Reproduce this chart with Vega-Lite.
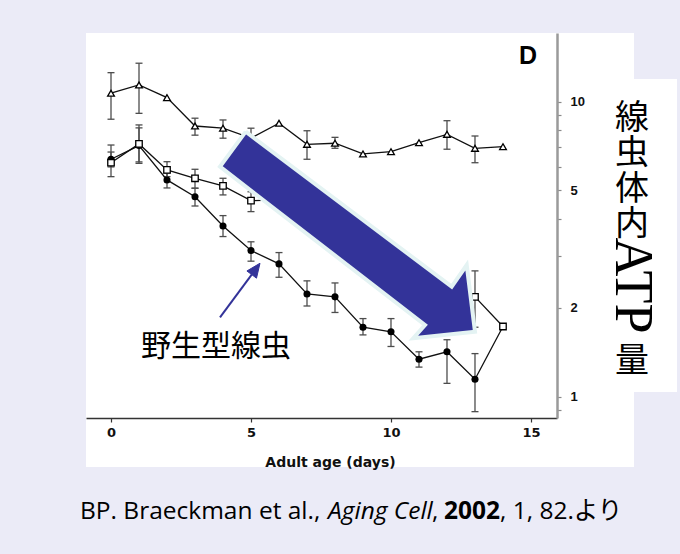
{
  "$schema": "https://vega.github.io/schema/vega-lite/v6.json",
  "width": 471,
  "height": 385,
  "autosize": {"type": "none"},
  "padding": {"left": 86, "top": 33, "right": 123, "bottom": 136},
  "background": "#ebebf7",
  "view": {"stroke": null},
  "config": {"font": "Liberation Sans"},
  "datasets": {
    "atp": [
      {"strain": "upper", "day": 0, "atp": 10.68, "lo": 8.72, "hi": 12.54},
      {"strain": "upper", "day": 1, "atp": 11.39, "lo": 9.13, "hi": 13.5},
      {"strain": "upper", "day": 2, "atp": 10.32, "lo": null, "hi": null},
      {"strain": "upper", "day": 3, "atp": 8.27, "lo": 7.7, "hi": 8.79},
      {"strain": "upper", "day": 4, "atp": 8.13, "lo": 7.52, "hi": 8.67},
      {"strain": "upper", "day": 5, "atp": 7.53, "lo": 7.0, "hi": 8.13},
      {"strain": "upper", "day": 6, "atp": 8.45, "lo": null, "hi": null},
      {"strain": "upper", "day": 7, "atp": 7.17, "lo": 6.38, "hi": 7.97},
      {"strain": "upper", "day": 8, "atp": 7.23, "lo": 6.95, "hi": 7.57},
      {"strain": "upper", "day": 9, "atp": 6.65, "lo": null, "hi": null},
      {"strain": "upper", "day": 10, "atp": 6.77, "lo": null, "hi": null},
      {"strain": "upper", "day": 11, "atp": 7.26, "lo": null, "hi": null},
      {"strain": "upper", "day": 12, "atp": 7.75, "lo": 6.9, "hi": 8.62},
      {"strain": "upper", "day": 13, "atp": 6.95, "lo": 6.21, "hi": 7.65},
      {"strain": "upper", "day": 14, "atp": 7.04, "lo": null, "hi": null},
      {"strain": "middle", "day": 0, "atp": 6.21, "lo": 5.57, "hi": 7.13},
      {"strain": "middle", "day": 1, "atp": 7.19, "lo": 6.18, "hi": 8.34},
      {"strain": "middle", "day": 2, "atp": 5.87, "lo": 5.57, "hi": 6.26},
      {"strain": "middle", "day": 3, "atp": 5.5, "lo": 5.09, "hi": 5.9},
      {"strain": "middle", "day": 4, "atp": 5.18, "lo": 4.83, "hi": 5.5},
      {"strain": "middle", "day": 5, "atp": 4.62, "lo": 4.24, "hi": 4.95},
      {"strain": "middle", "day": 6, "atp": 4.65, "lo": 4.35, "hi": 4.95},
      {"strain": "middle", "day": 7, "atp": 4.13, "lo": 3.85, "hi": 4.42},
      {"strain": "middle", "day": 8, "atp": 3.56, "lo": 3.32, "hi": 3.8},
      {"strain": "middle", "day": 9, "atp": 3.05, "lo": 2.85, "hi": 3.26},
      {"strain": "middle", "day": 10, "atp": 2.65, "lo": 2.48, "hi": 2.83},
      {"strain": "middle", "day": 11, "atp": 2.3, "lo": 2.15, "hi": 2.46},
      {"strain": "middle", "day": 12, "atp": 2.13, "lo": 2.0, "hi": 2.27},
      {"strain": "middle", "day": 13, "atp": 2.18, "lo": 1.72, "hi": 2.67},
      {"strain": "middle", "day": 14, "atp": 1.73, "lo": null, "hi": null},
      {"strain": "wild type", "day": 0, "atp": 6.38, "lo": 6.01, "hi": 6.75},
      {"strain": "wild type", "day": 1, "atp": 7.1, "lo": 6.25, "hi": 8.15},
      {"strain": "wild type", "day": 2, "atp": 5.43, "lo": 5.1, "hi": 5.73},
      {"strain": "wild type", "day": 3, "atp": 4.76, "lo": 4.43, "hi": 5.09},
      {"strain": "wild type", "day": 4, "atp": 3.79, "lo": 3.49, "hi": 4.11},
      {"strain": "wild type", "day": 5, "atp": 3.13, "lo": 2.88, "hi": 3.35},
      {"strain": "wild type", "day": 6, "atp": 2.82, "lo": 2.54, "hi": 3.08},
      {"strain": "wild type", "day": 7, "atp": 2.23, "lo": 2.03, "hi": 2.47},
      {"strain": "wild type", "day": 8, "atp": 2.18, "lo": 1.93, "hi": 2.43},
      {"strain": "wild type", "day": 9, "atp": 1.72, "lo": 1.62, "hi": 1.84},
      {"strain": "wild type", "day": 10, "atp": 1.66, "lo": 1.48, "hi": 1.84},
      {"strain": "wild type", "day": 11, "atp": 1.34, "lo": 1.26, "hi": 1.42},
      {"strain": "wild type", "day": 12, "atp": 1.42, "lo": 1.11, "hi": 1.56},
      {"strain": "wild type", "day": 13, "atp": 1.146, "lo": 0.89, "hi": 1.4},
      {"strain": "wild type", "day": 14, "atp": 1.73, "lo": null, "hi": null}
    ],
    "arrows": [
      {"part": "big", "i": 0, "day": 4.811, "atp": 7.912},
      {"part": "big", "i": 1, "day": 12.168, "atp": 2.36},
      {"part": "big", "i": 2, "day": 12.704, "atp": 2.795},
      {"part": "big", "i": 3, "day": 13.0, "atp": 1.661},
      {"part": "big", "i": 4, "day": 10.796, "atp": 1.578},
      {"part": "big", "i": 5, "day": 11.214, "atp": 1.75},
      {"part": "big", "i": 6, "day": 3.893, "atp": 6.021},
      {"part": "big", "i": 7, "day": 4.811, "atp": 7.912},
      {"part": "head", "i": 0, "day": 5.321, "atp": 2.834},
      {"part": "head", "i": 1, "day": 5.196, "atp": 2.522},
      {"part": "head", "i": 2, "day": 4.854, "atp": 2.668},
      {"part": "head", "i": 3, "day": 5.321, "atp": 2.834}
    ]
  },
  "layer": [
    {
      "data": {"values": [{}]},
      "mark": {"type": "rect", "color": "#ffffff"},
      "encoding": {
        "x": {"datum": -0.893, "type": "quantitative", "scale": {"domain": [-0.893, 15.929], "nice": false, "zero": false}},
        "x2": {"datum": 18.679},
        "y": {"datum": 17.09, "type": "quantitative", "scale": {"type": "log", "domain": [0.847, 17.09], "nice": false}},
        "y2": {"datum": 0.5777}
      }
    },
    {
      "data": {"values": [{}]},
      "mark": {"type": "rect", "color": "#ffffff"},
      "encoding": {
        "x": {"datum": 18.0, "type": "quantitative", "scale": {"domain": [-0.893, 15.929], "nice": false, "zero": false}},
        "x2": {"datum": 20.214},
        "y": {"datum": 11.94, "type": "quantitative", "scale": {"type": "log", "domain": [0.847, 17.09], "nice": false}},
        "y2": {"datum": 1.037}
      }
    },
    {
      "data": {"name": "atp"},
      "transform": [{"filter": "datum.lo != null"}],
      "mark": {"type": "rule", "color": "#4d4d4d", "strokeWidth": 1.3},
      "encoding": {
        "x": {"field": "day", "type": "quantitative", "scale": {"domain": [-0.893, 15.929], "nice": false, "zero": false}},
        "y": {"field": "lo", "type": "quantitative", "scale": {"type": "log", "domain": [0.847, 17.09], "nice": false}},
        "y2": {"field": "hi"}
      }
    },
    {
      "data": {"name": "atp"},
      "transform": [
        {"filter": "datum.lo != null"},
        {"fold": ["lo", "hi"], "as": ["end", "bound"]}
      ],
      "mark": {"type": "point", "shape": "stroke", "color": "#4d4d4d", "strokeWidth": 1.3, "size": 49, "opacity": 1},
      "encoding": {
        "x": {"field": "day", "type": "quantitative", "scale": {"domain": [-0.893, 15.929], "nice": false, "zero": false}},
        "y": {"field": "bound", "type": "quantitative", "scale": {"type": "log", "domain": [0.847, 17.09], "nice": false}}
      }
    },
    {
      "data": {"name": "atp"},
      "mark": {"type": "line", "color": "#111111", "strokeWidth": 1.3},
      "encoding": {
        "x": {
          "field": "day", "type": "quantitative",
          "scale": {"domain": [-0.893, 15.929], "nice": false, "zero": false},
          "axis": {
            "orient": "bottom", "values": [0, 5, 10, 15], "format": "d", "title": "Adult age (days)", "grid": false, "zindex": 1,
            "domainColor": "#333333", "domainWidth": 1.5, "tickColor": "#333333", "tickSize": 4, "tickWidth": 1.2,
            "labelFont": "DejaVu Sans", "labelFontWeight": "bold", "labelFontSize": 13, "labelColor": "#111111", "labelPadding": 4, "labelFlush": false,
            "titleFont": "DejaVu Sans", "titleFontWeight": "bold", "titleFontSize": 14, "titleColor": "#111111",
            "titleX": 244, "titleY": 44, "titleBaseline": "middle", "titleAlign": "center"
          }
        },
        "y": {
          "field": "atp", "type": "quantitative",
          "scale": {"type": "log", "domain": [0.847, 17.09], "nice": false},
          "axis": {
            "orient": "right", "values": [0.9, 1, 2, 3, 4, 5, 6, 7, 8, 9, 10], "title": null, "grid": false, "zindex": 1,
            "labelExpr": "datum.value == 1 || datum.value == 2 || datum.value == 5 || datum.value == 10 ? format(datum.value, 'd') : ''",
            "domainColor": "#9a9a9a", "domainWidth": 2.5, "tickColor": "#8a8a8a", "tickWidth": 1.2, "tickSize": 4,
            "labelFont": "Liberation Sans", "labelFontWeight": "bold", "labelFontSize": 13, "labelColor": "#111111",
            "labelPadding": 9, "labelBaseline": "middle", "labelOverlap": false, "labelFlush": false
          }
        },
        "detail": {"field": "strain"}
      }
    },
    {
      "data": {"name": "atp"},
      "transform": [{"filter": "datum.strain == 'wild type' && datum.day < 14"}],
      "mark": {"type": "point", "shape": "circle", "filled": true, "color": "#000000", "size": 50, "opacity": 1},
      "encoding": {
        "x": {"field": "day", "type": "quantitative", "scale": {"domain": [-0.893, 15.929], "nice": false, "zero": false}},
        "y": {"field": "atp", "type": "quantitative", "scale": {"type": "log", "domain": [0.847, 17.09], "nice": false}}
      }
    },
    {
      "data": {"name": "atp"},
      "transform": [{"filter": "datum.strain == 'middle'"}],
      "mark": {"type": "point", "shape": "square", "filled": true, "fill": "#ffffff", "stroke": "#000000", "strokeWidth": 1.3, "size": 42, "opacity": 1},
      "encoding": {
        "x": {"field": "day", "type": "quantitative", "scale": {"domain": [-0.893, 15.929], "nice": false, "zero": false}},
        "y": {"field": "atp", "type": "quantitative", "scale": {"type": "log", "domain": [0.847, 17.09], "nice": false}}
      }
    },
    {
      "data": {"name": "atp"},
      "transform": [{"filter": "datum.strain == 'upper'"}],
      "mark": {"type": "point", "shape": "triangle-up", "filled": true, "fill": "#ffffff", "stroke": "#000000", "strokeWidth": 1.3, "size": 46, "opacity": 1},
      "encoding": {
        "x": {"field": "day", "type": "quantitative", "scale": {"domain": [-0.893, 15.929], "nice": false, "zero": false}},
        "y": {"field": "atp", "type": "quantitative", "scale": {"type": "log", "domain": [0.847, 17.09], "nice": false}}
      }
    },
    {
      "data": {"name": "arrows"},
      "transform": [{"filter": "datum.part == 'big'"}],
      "mark": {"type": "line", "fill": "#333399", "stroke": "#e4f3f3", "strokeWidth": 4, "strokeJoin": "miter", "strokeMiterLimit": 10},
      "encoding": {
        "x": {"field": "day", "type": "quantitative", "scale": {"domain": [-0.893, 15.929], "nice": false, "zero": false}},
        "y": {"field": "atp", "type": "quantitative", "scale": {"type": "log", "domain": [0.847, 17.09], "nice": false}},
        "order": {"field": "i", "type": "quantitative"}
      }
    },
    {
      "data": {"values": [{}]},
      "mark": {"type": "rule", "color": "#333399", "strokeWidth": 2},
      "encoding": {
        "x": {"datum": 3.893, "type": "quantitative", "scale": {"domain": [-0.893, 15.929], "nice": false, "zero": false}},
        "x2": {"datum": 5.025},
        "y": {"datum": 1.858, "type": "quantitative", "scale": {"type": "log", "domain": [0.847, 17.09], "nice": false}},
        "y2": {"datum": 2.594}
      }
    },
    {
      "data": {"name": "arrows"},
      "transform": [{"filter": "datum.part == 'head'"}],
      "mark": {"type": "line", "fill": "#333399", "stroke": "#333399", "strokeWidth": 1},
      "encoding": {
        "x": {"field": "day", "type": "quantitative", "scale": {"domain": [-0.893, 15.929], "nice": false, "zero": false}},
        "y": {"field": "atp", "type": "quantitative", "scale": {"type": "log", "domain": [0.847, 17.09], "nice": false}},
        "order": {"field": "i", "type": "quantitative"}
      }
    },
    {
      "data": {"values": [{}]},
      "mark": {"type": "text", "text": "野生型線虫", "font": "Noto Sans CJK JP", "fontSize": 30, "color": "#000000", "align": "center", "baseline": "middle"},
      "encoding": {
        "x": {"datum": 3.75, "type": "quantitative", "scale": {"domain": [-0.893, 15.929], "nice": false, "zero": false}},
        "y": {"datum": 1.474, "type": "quantitative", "scale": {"type": "log", "domain": [0.847, 17.09], "nice": false}}
      }
    },
    {
      "data": {"values": [{}]},
      "mark": {"type": "text", "text": "D", "font": "Liberation Sans", "fontWeight": "bold", "fontSize": 25, "color": "#000000", "align": "center", "baseline": "middle"},
      "encoding": {
        "x": {"datum": 14.893, "type": "quantitative", "scale": {"domain": [-0.893, 15.929], "nice": false, "zero": false}},
        "y": {"datum": 14.29, "type": "quantitative", "scale": {"type": "log", "domain": [0.847, 17.09], "nice": false}}
      }
    },
    {
      "data": {"values": [{}]},
      "mark": {"type": "text", "text": ["線", "虫", "体", "内"], "lineHeight": 35.3, "font": "Noto Sans CJK JP", "fontSize": 34, "color": "#000000", "align": "center", "baseline": "middle"},
      "encoding": {
        "x": {"datum": 18.607, "type": "quantitative", "scale": {"domain": [-0.893, 15.929], "nice": false, "zero": false}},
        "y": {"datum": 8.74, "type": "quantitative", "scale": {"type": "log", "domain": [0.847, 17.09], "nice": false}}
      }
    },
    {
      "data": {"values": [{}]},
      "mark": {"type": "text", "text": "ATP", "angle": 90, "font": "Liberation Serif", "fontSize": 54, "color": "#000000", "align": "center", "baseline": "middle"},
      "encoding": {
        "x": {"datum": 18.607, "type": "quantitative", "scale": {"domain": [-0.893, 15.929], "nice": false, "zero": false}},
        "y": {"datum": 2.38, "type": "quantitative", "scale": {"type": "log", "domain": [0.847, 17.09], "nice": false}}
      }
    },
    {
      "data": {"values": [{}]},
      "mark": {"type": "text", "text": "量", "font": "Noto Sans CJK JP", "fontSize": 34, "color": "#000000", "align": "center", "baseline": "middle"},
      "encoding": {
        "x": {"datum": 18.607, "type": "quantitative", "scale": {"domain": [-0.893, 15.929], "nice": false, "zero": false}},
        "y": {"datum": 1.31, "type": "quantitative", "scale": {"type": "log", "domain": [0.847, 17.09], "nice": false}}
      }
    },
    {
      "data": {"values": [{}]},
      "mark": {"type": "text", "text": "BP. Braeckman et al.,", "font": "Open Sans, Noto Sans CJK JP", "fontSize": 24.5, "color": "#000000", "align": "left", "baseline": "middle"},
      "encoding": {
        "x": {"datum": -1.107, "type": "quantitative", "scale": {"domain": [-0.893, 15.929], "nice": false, "zero": false}},
        "y": {"datum": 0.4066, "type": "quantitative", "scale": {"type": "log", "domain": [0.847, 17.09], "nice": false}}
      }
    },
    {
      "data": {"values": [{}]},
      "mark": {"type": "text", "text": "Aging Cell", "font": "Open Sans, Noto Sans CJK JP", "fontStyle": "italic", "fontSize": 24.5, "color": "#000000", "align": "left", "baseline": "middle"},
      "encoding": {
        "x": {"datum": 7.75, "type": "quantitative", "scale": {"domain": [-0.893, 15.929], "nice": false, "zero": false}},
        "y": {"datum": 0.4066, "type": "quantitative", "scale": {"type": "log", "domain": [0.847, 17.09], "nice": false}}
      }
    },
    {
      "data": {"values": [{}]},
      "mark": {"type": "text", "text": ",", "font": "Open Sans, Noto Sans CJK JP", "fontSize": 24.5, "color": "#000000", "align": "left", "baseline": "middle"},
      "encoding": {
        "x": {"datum": 11.464, "type": "quantitative", "scale": {"domain": [-0.893, 15.929], "nice": false, "zero": false}},
        "y": {"datum": 0.4066, "type": "quantitative", "scale": {"type": "log", "domain": [0.847, 17.09], "nice": false}}
      }
    },
    {
      "data": {"values": [{}]},
      "mark": {"type": "text", "text": "2002", "font": "Open Sans, Noto Sans CJK JP", "fontWeight": "bold", "fontSize": 24.5, "color": "#000000", "align": "left", "baseline": "middle"},
      "encoding": {
        "x": {"datum": 11.893, "type": "quantitative", "scale": {"domain": [-0.893, 15.929], "nice": false, "zero": false}},
        "y": {"datum": 0.4066, "type": "quantitative", "scale": {"type": "log", "domain": [0.847, 17.09], "nice": false}}
      }
    },
    {
      "data": {"values": [{}]},
      "mark": {"type": "text", "text": ", 1, 82.より", "font": "Open Sans, Noto Sans CJK JP", "fontSize": 24.5, "color": "#000000", "align": "left", "baseline": "middle"},
      "encoding": {
        "x": {"datum": 13.893, "type": "quantitative", "scale": {"domain": [-0.893, 15.929], "nice": false, "zero": false}},
        "y": {"datum": 0.4066, "type": "quantitative", "scale": {"type": "log", "domain": [0.847, 17.09], "nice": false}}
      }
    }
  ]
}
